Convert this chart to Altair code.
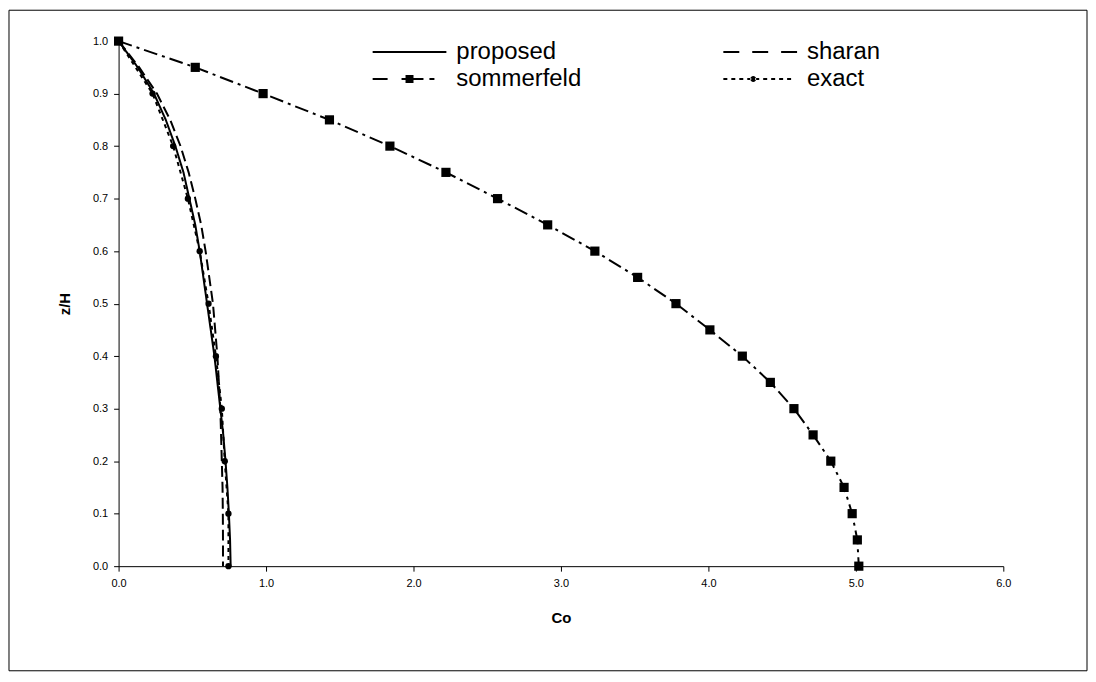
import altair as alt
import pandas as pd

# ---- data ----
z_levels = [1.0, 0.95, 0.9, 0.85, 0.8, 0.75, 0.7, 0.65, 0.6, 0.55, 0.5,
            0.45, 0.4, 0.35, 0.3, 0.25, 0.2, 0.15, 0.1, 0.05, 0.0]
proposed_co = [0.0, 0.13, 0.24, 0.32, 0.385, 0.44, 0.48, 0.52, 0.55, 0.575, 0.60,
               0.625, 0.65, 0.67, 0.69, 0.71, 0.725, 0.738, 0.748, 0.756, 0.76]
sharan_co = [0.0, 0.14, 0.26, 0.35, 0.42, 0.475, 0.52, 0.56, 0.59, 0.615, 0.64,
             0.655, 0.67, 0.68, 0.69, 0.695, 0.70, 0.705, 0.707, 0.708, 0.708]
sommerfeld_co = [0.0, 0.52, 0.98, 1.43, 1.84, 2.22, 2.57, 2.91, 3.23, 3.52, 3.78,
                 4.01, 4.23, 4.42, 4.58, 4.71, 4.83, 4.92, 4.975, 5.01, 5.02]
exact_z = [1.0, 0.9, 0.8, 0.7, 0.6, 0.5, 0.4, 0.3, 0.2, 0.1, 0.0]
exact_co = [0.0, 0.23, 0.37, 0.47, 0.55, 0.61, 0.66, 0.70, 0.72, 0.745, 0.745]

series_names = ["proposed", "sharan", "sommerfeld", "exact"]
legend_order = ["proposed", "sommerfeld", "sharan", "exact"]  # column-major -> 2x2 grid
x_ticks = [0, 1, 2, 3, 4, 5, 6]
y_ticks = [0.0, 0.1, 0.2, 0.3, 0.4, 0.5, 0.6, 0.7, 0.8, 0.9, 1.0]

rows = []
for name, zs, cs in [("proposed", z_levels, proposed_co),
                     ("sharan", z_levels, sharan_co),
                     ("sommerfeld", z_levels, sommerfeld_co),
                     ("exact", exact_z, exact_co)]:
    for i, (zv, cv) in enumerate(zip(zs, cs)):
        rows.append({"series": name, "z": zv, "co": cv, "idx": i})
df = pd.DataFrame(rows)
legend_df = pd.DataFrame({"entry": legend_order})

FONT = "Liberation Sans"

# different domain order than the legend scale so the two are not merged
dash_domain = ["exact", "proposed", "sharan", "sommerfeld"]
dash_scale = alt.Scale(domain=dash_domain,
                       range=[[4, 4], [1, 0], [11, 5], [14, 5, 3, 5]])


# legend glyphs drawn as filled shapes (units of 10 px)
def seg(a, b, h=0.1):
    return f"M{a},{-h}H{b}V{h}H{a}Z"


def sq(c, h):
    return f"M{c - h},{-h}H{c + h}V{h}H{c - h}Z"


def circ(c, r):
    return f"M{c - r},0A{r},{r} 0 1,0 {c + r},0A{r},{r} 0 1,0 {c - r},0Z"


path_proposed = seg(-6.4, 1.0)
path_sharan = seg(-6.4, -4.8) + seg(-3.5, -1.9) + seg(-0.6, 1.0)
path_sommerfeld = seg(-6.4, -4.9) + seg(-3.5, -1.3) + sq(-2.7, 0.4) + seg(-0.7, -0.2)
path_exact = "".join(seg(-6.4 + 0.8 * k, -6.0 + 0.8 * k) for k in range(9)) + circ(-3.4, 0.3)
legend_paths = [path_proposed, path_sommerfeld, path_sharan, path_exact]

x_enc = alt.X("co:Q",
              scale=alt.Scale(domain=[0, 6], nice=False, zero=False),
              axis=alt.Axis(values=x_ticks, format=".1f", title="Co",
                            titleFont=FONT, titleFontSize=15, titleFontWeight="bold",
                            titleColor="black", labelFont=FONT, labelFontSize=11,
                            labelColor="black", domainColor="black", tickColor="black",
                            tickSize=5, labelPadding=6, titlePadding=23, grid=False,
                            labelFlush=False))
y_enc = alt.Y("z:Q",
              scale=alt.Scale(domain=[0, 1], nice=False, zero=False),
              axis=alt.Axis(values=y_ticks, format=".1f", title="z/H",
                            titleFont=FONT, titleFontSize=15, titleFontWeight="bold",
                            titleColor="black", labelFont=FONT, labelFontSize=11,
                            labelColor="black", domainColor="black", tickColor="black",
                            tickSize=5, labelPadding=6, titlePadding=20, grid=False,
                            labelFlush=False))

frame = alt.Chart(pd.DataFrame({"k": [0]})).mark_rect(
    fillOpacity=0, stroke="black", strokeWidth=1
).encode(x=alt.value(-110), x2=alt.value(972), y=alt.value(-31), y2=alt.value(632))

lines = alt.Chart(df).mark_line(color="black", strokeWidth=2).encode(
    x=x_enc, y=y_enc,
    strokeDash=alt.StrokeDash("series:N", scale=dash_scale, legend=None),
    order=alt.Order("idx:Q"),
)

squares = alt.Chart(df).transform_filter(alt.datum.series == "sommerfeld").mark_point(
    shape="square", filled=True, size=85, color="black", opacity=1
).encode(x="co:Q", y="z:Q")

circles = alt.Chart(df).transform_filter(alt.datum.series == "exact").mark_point(
    shape="circle", filled=True, size=40, color="black", opacity=1
).encode(x="co:Q", y="z:Q")

leg = alt.Chart(legend_df).mark_point(
    size=400, filled=True, color="black", opacity=0
).encode(
    x=alt.value(0), y=alt.value(0),
    shape=alt.Shape("entry:N",
                    scale=alt.Scale(domain=legend_order, range=legend_paths),
                    legend=alt.Legend(title=None, orient="none", legendX=307, legendY=-1,
                                      columns=2, columnPadding=142, rowPadding=3,
                                      labelOffset=8, labelFont=FONT, labelFontSize=24,
                                      labelColor="black", labelLimit=0, symbolSize=400,
                                      symbolStrokeWidth=0, symbolOpacity=1,
                                      symbolFillColor="black", padding=0)),
)

chart = alt.layer(frame, lines, squares, circles, leg).properties(
    width=888, height=527, padding=0, background="white"
).configure_view(stroke=None)

chart.save("out.html", embed_options={"renderer": "svg", "actions": False})
